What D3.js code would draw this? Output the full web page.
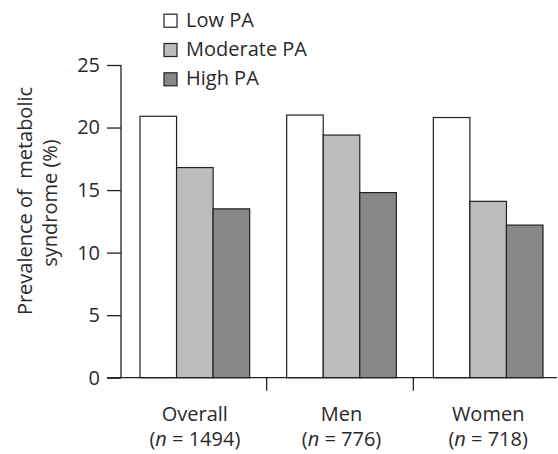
<!DOCTYPE html>
<html><head><meta charset="utf-8">
<script src="https://cdn.jsdelivr.net/npm/d3@7"></script>
<style>body{margin:0;background:#fff}text{font-family:"Open Sans",sans-serif;fill:#2a2a2a}</style>
</head><body><svg id="c" width="558" height="454"></svg>
<script>
const categories = ["Overall", "Men", "Women"];
const catN = ["1494", "776", "718"];
const series = ["Low PA", "Moderate PA", "High PA"];
const lowPA = [20.9, 21.0, 20.8];
const moderatePA = [16.8, 19.4, 14.1];
const highPA = [13.5, 14.8, 12.2];
const yTicks = [0, 5, 10, 15, 20, 25];
const colors = ["#ffffff", "#bcbcbc", "#888888"];

const values = [lowPA, moderatePA, highPA];
const svg = d3.select("#c");
const fs = 20;
const y = d3.scaleLinear().domain([0, 25]).range([377.7, 65]);
const x0 = d3.scaleBand().domain(categories).range([120, 560]);
const x1 = d3.scaleBand().domain(series).range([20, x0.bandwidth() - 17]);

// y axis
const ya = svg.append("g").attr("transform", "translate(121,0)")
  .call(d3.axisLeft(y).tickValues(yTicks).tickSize(14).tickPadding(7));
ya.select(".domain").remove();
ya.selectAll(".tick line").attr("stroke", "#222").attr("stroke-width", 1.3);
ya.selectAll(".tick text").attr("font-size", fs).attr("font-family", "Open Sans").attr("fill", "#2a2a2a");
svg.append("line").attr("x1", 121).attr("x2", 121).attr("y1", y(25)).attr("y2", y(0))
  .attr("stroke", "#222").attr("stroke-width", 1.3);

// bars
categories.forEach((c, i) => {
  series.forEach((s, j) => {
    svg.append("rect")
      .attr("x", x0(c) + x1(s)).attr("width", x1.bandwidth())
      .attr("y", y(values[j][i])).attr("height", y(0) - y(values[j][i]))
      .attr("fill", colors[j]).attr("stroke", "#222").attr("stroke-width", 1.2);
  });
});

// x axis baseline
svg.append("line").attr("x1", 107).attr("x2", 557).attr("y1", y(0)).attr("y2", y(0))
  .attr("stroke", "#222").attr("stroke-width", 1.3);
categories.slice(1).forEach(c => {
  svg.append("line").attr("x1", x0(c)).attr("x2", x0(c)).attr("y1", y(0)).attr("y2", y(0) + 13)
    .attr("stroke", "#222").attr("stroke-width", 1.3);
});
categories.forEach((c, i) => {
  const cx = x0(c) + x1.range()[0] + (x1.range()[1] - x1.range()[0]) / 2;
  svg.append("text").attr("x", cx).attr("y", 421).attr("text-anchor", "middle").attr("font-size", fs).text(c);
  const t = svg.append("text").attr("x", cx).attr("y", 446).attr("text-anchor", "middle").attr("font-size", fs);
  t.append("tspan").text("(");
  t.append("tspan").attr("font-style", "italic").text("n");
  t.append("tspan").text(" = " + catN[i] + ")");
});

// y title
svg.append("text").attr("transform", "translate(32,201) rotate(-90)").attr("text-anchor", "middle")
  .attr("font-size", fs).attr("xml:space", "preserve").text("Prevalence of  metabolic");
svg.append("text").attr("transform", "translate(57,203) rotate(-90)").attr("text-anchor", "middle")
  .attr("font-size", fs).text("syndrome (%)");

// legend
series.forEach((s, j) => {
  const base = 26.7 + j * 29.3;
  svg.append("rect").attr("x", 164).attr("y", base - 12.5).attr("width", 13).attr("height", 13)
    .attr("fill", colors[j]).attr("stroke", "#222").attr("stroke-width", 1.2);
  svg.append("text").attr("x", 186).attr("y", base).attr("font-size", fs).text(s);
});
</script></body></html>
